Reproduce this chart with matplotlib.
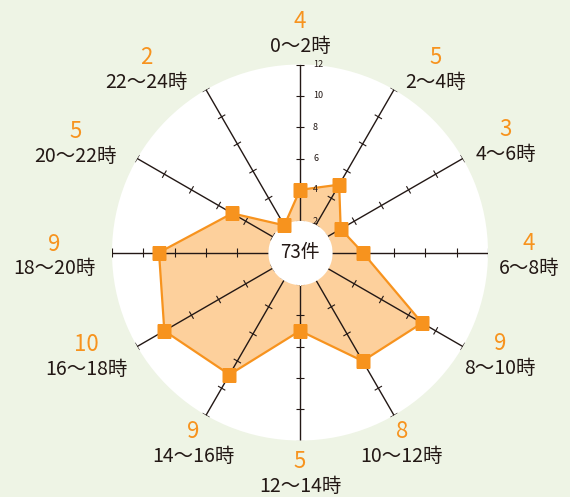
import numpy as np
import matplotlib
matplotlib.use('Agg')
import matplotlib.pyplot as plt

plt.rcParams['font.family'] = ['Noto Sans CJK JP', 'DejaVu Sans']

# counts per 2-hour slot, clockwise from midnight
slots = ['0～2時', '2～4時', '4～6時', '6～8時', '8～10時', '10～12時',
         '12～14時', '14～16時', '16～18時', '18～20時', '20～22時', '22～24時']
counts = [4, 5, 3, 4, 9, 8, 5, 9, 10, 9, 5, 2]
r_ticks = [2, 4, 6, 8, 10, 12]
r_max = 12

# label block offsets (pixels) from the end of each spoke, y pointing down
label_offsets = [(0, -30), (42, -20), (43, -16), (41, 4), (37, 9), (8, 29),
                 (0, 33), (-13, 29), (-51, 10), (-58, 4), (-62, -15), (-60, -20)]

bg = '#eef4e5'
orange = '#f7931e'
fill_col = '#fdd09c'
ink = '#231815'

W, H = 570, 497
cx, cy, rad = 300, 252.5, 188

fig = plt.figure(figsize=(W / 100, H / 100), dpi=100, facecolor=bg)
ax = fig.add_axes([(cx - rad) / W, (H - cy - rad) / H, 2 * rad / W, 2 * rad / H],
                  projection='polar')
ax.set_facecolor('white')
ax.set_theta_zero_location('N')
ax.set_theta_direction(-1)
ax.set_ylim(0, r_max)
ax.grid(False)
ax.set_xticks([])
ax.set_yticks([])
ax.spines['polar'].set_visible(False)

theta = np.deg2rad(np.arange(len(slots)) * 30)

# filled area
t_closed = np.append(theta, theta[0])
c_closed = np.append(counts, counts[0])
ax.fill(t_closed, c_closed, color=fill_col, zorder=1, lw=0)

# spokes with short cross ticks (half length in data units)
half = 4.2 / rad * r_max
for t in theta:
    ax.plot([t, t], [0, r_max], color=ink, lw=1.0, zorder=2)
    for v in r_ticks:
        da = np.arctan2(half, v)
        rr = np.hypot(v, half)
        ax.plot([t - da, t + da], [rr, rr], color=ink, lw=0.8, zorder=2,
                solid_capstyle='butt')

# white hole in the middle
ring = np.linspace(0, 2 * np.pi, 200)
ax.fill_between(ring, 0, 2.05, color='white', zorder=3, lw=0)

ax.plot(t_closed, c_closed, color=orange, lw=1.6, zorder=4)
ax.plot(theta, counts, ls='none', marker='s', ms=10.5, color=orange,
        mec='none', zorder=5)

ax.text(0, 0, f'{sum(counts)}件', ha='center', va='center', fontsize=13.5,
        color=ink, zorder=6)

# scale numbers on the top spoke
for v in r_ticks:
    ax.annotate(str(v), xy=(0, v), xytext=(13, 0), textcoords='offset pixels',
                ha='left', va='center', fontsize=6.5, color=ink, zorder=6,
                annotation_clip=False)

# slot names with their counts
for t, name, n, (dx, dy) in zip(theta, slots, counts, label_offsets):
    ax.annotate(str(n), xy=(t, r_max), xytext=(dx, -(dy - 12.5)),
                textcoords='offset pixels', ha='center', va='center',
                fontsize=16, color=orange, annotation_clip=False)
    ax.annotate(name, xy=(t, r_max), xytext=(dx, -(dy + 12.5)),
                textcoords='offset pixels', ha='center', va='center',
                fontsize=14, color=ink, annotation_clip=False)

fig.savefig('out.png', dpi=100, facecolor=bg)
